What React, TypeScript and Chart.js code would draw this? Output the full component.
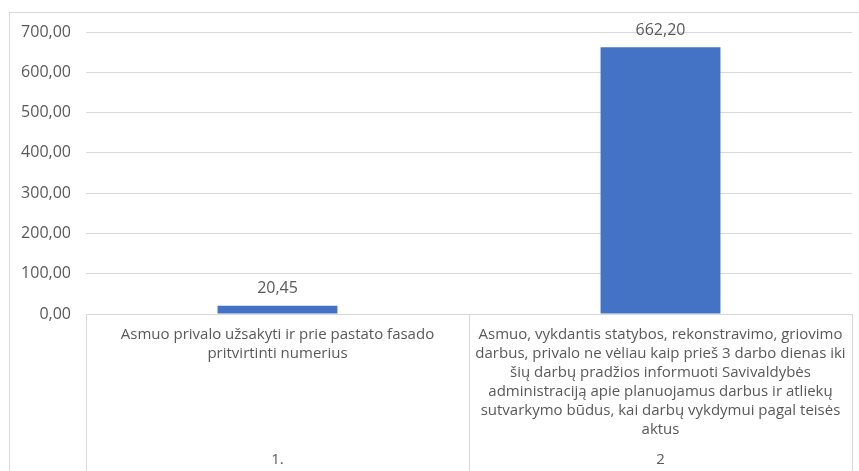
import React, { useEffect, useRef } from "react";
import { Chart, registerables } from "chart.js";

Chart.register(...registerables);

const categoryLines: string[][] = [
  ["Asmuo privalo užsakyti ir prie pastato fasado", "pritvirtinti numerius"],
  [
    "Asmuo, vykdantis statybos, rekonstravimo, griovimo",
    "darbus, privalo ne vėliau kaip prieš 3 darbo dienas iki",
    "šių darbų pradžios informuoti Savivaldybės",
    "administraciją apie planuojamus darbus ir atliekų",
    "sutvarkymo būdus, kai darbų vykdymui pagal teisės",
    "aktus",
  ],
];
const categoryNumbers: string[] = ["1.", "2"];
const values: number[] = [20.45, 662.2];
const yMin = 0;
const yMax = 700;
const yStep = 100;

const fmt = (v: number) => v.toFixed(2).replace(".", ",");

const GRID = "#d9d9d9";
const TEXT = "#595959";
const FONT = '"Open Sans", sans-serif';

const overlay = {
  id: "overlay",
  afterDraw(chart: any) {
    const { ctx, chartArea } = chart;
    const x = chart.scales.x;
    ctx.save();
    ctx.strokeStyle = GRID;
    ctx.lineWidth = 1;
    ctx.strokeRect(9.5, 12.5, chart.width + 20, chart.height + 20);

    const n = categoryLines.length;
    const xs: number[] = [chartArea.left];
    for (let i = 0; i < n - 1; i++) {
      xs.push((x.getPixelForValue(i) + x.getPixelForValue(i + 1)) / 2);
    }
    xs.push(chartArea.right);
    xs.forEach((px) => {
      const p = Math.round(px) + 0.5;
      ctx.beginPath();
      ctx.moveTo(p, chartArea.bottom);
      ctx.lineTo(p, chart.height);
      ctx.stroke();
    });

    ctx.fillStyle = TEXT;
    ctx.font = `15px ${FONT}`;
    ctx.textAlign = "center";
    ctx.textBaseline = "middle";
    categoryLines.forEach((lines, i) => {
      const cx = x.getPixelForValue(i);
      lines.forEach((l, j) => ctx.fillText(l, cx, chartArea.bottom + 21 + j * 19));
      ctx.fillText(categoryNumbers[i], cx, chartArea.bottom + 146);
    });

    ctx.font = `16px ${FONT}`;
    const meta = chart.getDatasetMeta(0);
    meta.data.forEach((bar: any, i: number) => {
      ctx.fillText(fmt(values[i]), bar.x, bar.y - 17);
    });
    ctx.restore();
  },
};

export default function App() {
  const ref = useRef<HTMLCanvasElement | null>(null);
  useEffect(() => {
    if (!ref.current) return;
    const chart = new Chart(ref.current, {
      type: "bar",
      data: {
        labels: categoryNumbers,
        datasets: [
          {
            data: values,
            backgroundColor: "#4472C4",
            borderWidth: 0,
            categoryPercentage: 1,
            barPercentage: 0.313,
          },
        ],
      },
      options: {
        animation: false,
        responsive: true,
        maintainAspectRatio: false,
        layout: { padding: { top: 32, right: 7, bottom: 157, left: 0 } },
        plugins: { legend: { display: false }, tooltip: { enabled: false } },
        scales: {
          x: { display: false },
          y: {
            min: yMin,
            max: yMax,
            afterFit: (s: any) => {
              s.width = 86;
            },
            border: { display: false },
            grid: { color: GRID, drawTicks: false, lineWidth: 1 },
            ticks: {
              stepSize: yStep,
              padding: 15,
              color: TEXT,
              font: { family: FONT, size: 16 },
              callback: (v: any) => fmt(Number(v)),
            },
          },
        },
      },
      plugins: [overlay],
    });
    return () => chart.destroy();
  }, []);
  return (
    <div style={{ position: "fixed", left: 0, top: 0, width: 859, height: 471, background: "#fff" }}>
      <canvas ref={ref} />
    </div>
  );
}
